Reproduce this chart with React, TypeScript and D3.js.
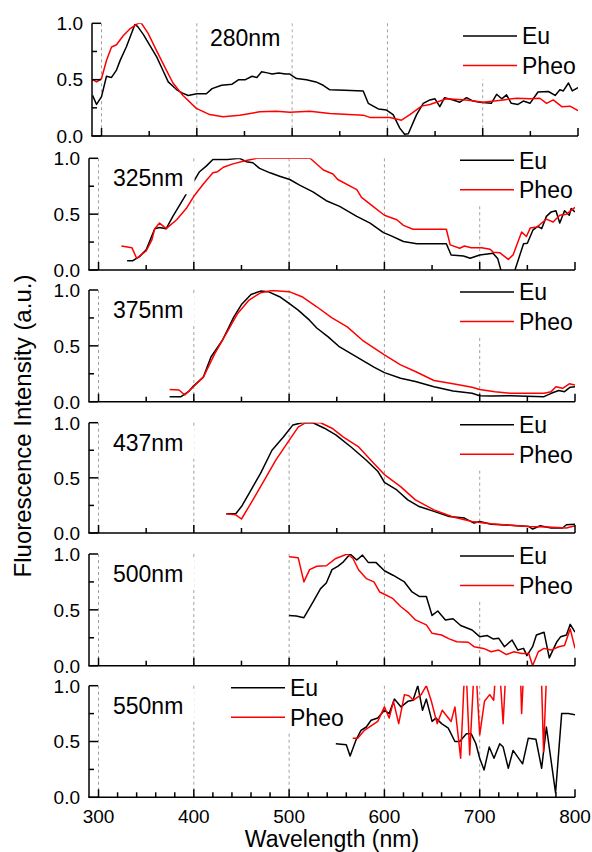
import React from "react";
import * as d3 from "d3";

type Pt = [number, number];

const panelLabels = ["280nm", "325nm", "375nm", "437nm", "500nm", "550nm"];
const seriesNames = ["Eu", "Pheo"];
const majorTicks = [300, 400, 500, 600, 700, 800];
const gridTicks = [300, 400, 500, 600, 700];
const yMajor = [0, 0.5, 1];
const yMinor = [0.25, 0.75];

const eu280: Pt[] = [
  [290.6, 0.36], [294.8, 0.28], [300, 0.35], [305.2, 0.53], [310.5, 0.52], [315.7, 0.585], [320, 0.68],
  [326, 0.79], [331, 0.9], [335, 0.99], [338, 0.97], [344, 0.9], [351, 0.8], [358, 0.7], [364, 0.59],
  [370, 0.48], [379, 0.41], [385, 0.38], [391, 0.36], [400, 0.375], [410, 0.375], [416, 0.42],
  [426, 0.45], [437, 0.46], [444, 0.5], [451, 0.5], [458, 0.53], [463, 0.52], [468, 0.57], [474, 0.56],
  [479, 0.55], [486, 0.56], [493, 0.55], [497.6, 0.55], [504.6, 0.51], [515, 0.5], [525, 0.48],
  [532.6, 0.45], [539.6, 0.41], [555, 0.405], [574.6, 0.4], [579.9, 0.29], [590.4, 0.24], [599, 0.23],
  [606, 0.19], [613, 0.07], [618, 0.015], [621.9, 0.02], [630.6, 0.19], [637.6, 0.29], [644.6, 0.32],
  [649.9, 0.33], [655, 0.26], [660, 0.34], [669, 0.32], [676, 0.3], [683, 0.34], [690, 0.31],
  [697, 0.3], [709, 0.29], [714.6, 0.37], [720, 0.33], [725, 0.365], [730, 0.29], [737, 0.28],
  [742.6, 0.31], [749.6, 0.29], [758, 0.39], [769, 0.395], [776, 0.36], [781, 0.41], [784.6, 0.4],
  [790, 0.47], [794, 0.4], [800, 0.43],
];
const pheo280: Pt[] = [
  [290.6, 0.5], [294.8, 0.48], [300, 0.51], [305.2, 0.67], [310.5, 0.79], [315.7, 0.81], [322.7, 0.89],
  [329.7, 0.95], [338.4, 1.0], [341.9, 1.0], [348.9, 0.91], [357.6, 0.76], [368, 0.585], [375, 0.47],
  [385.5, 0.36], [399.5, 0.245], [413.5, 0.19], [427.5, 0.17], [445, 0.185], [466, 0.215],
  [483.5, 0.22], [497.6, 0.21], [518.6, 0.22], [539.6, 0.2], [574.6, 0.185], [581.6, 0.165],
  [602.6, 0.165], [614.8, 0.14], [623.6, 0.19], [635.8, 0.265], [644.6, 0.28], [662, 0.33],
  [683, 0.32], [700.6, 0.3], [721.6, 0.32], [735.6, 0.335], [749.6, 0.33], [760, 0.335], [767, 0.29],
  [774, 0.32], [783, 0.26], [791.6, 0.265], [800, 0.225],
];

const eu325: Pt[] = [
  [330, 0.083], [336, 0.083], [343, 0.12], [350, 0.18], [359, 0.37], [364, 0.38], [371, 0.37],
  [378, 0.48], [390, 0.65], [401, 0.81], [406, 0.88], [413, 0.93], [420, 0.99], [435, 0.99],
  [448, 1.0], [455, 0.97], [462, 0.96], [469, 0.91], [480, 0.87], [490, 0.84], [500.7, 0.81],
  [511, 0.76], [525, 0.7], [539, 0.62], [553, 0.57], [571, 0.48], [585, 0.42], [599, 0.335],
  [606, 0.31], [620, 0.255], [634, 0.235], [665, 0.235], [670, 0.135], [683, 0.125], [690, 0.105],
  [700, 0.135], [714, 0.15], [719, 0.1], [727, -0.15], [737, 0.0], [746, 0.235], [750, 0.24],
  [756, 0.36], [761, 0.39], [765, 0.37], [770, 0.48], [775, 0.52], [780, 0.53], [784, 0.42],
  [789, 0.53], [794, 0.49], [796, 0.55], [800, 0.52],
];
const pheo325: Pt[] = [
  [324, 0.215], [335, 0.2], [340, 0.105], [350, 0.17], [356, 0.27], [359, 0.37], [364, 0.42],
  [371, 0.37], [382, 0.45], [392, 0.55], [400, 0.66], [410, 0.77], [420, 0.87], [425, 0.88],
  [431, 0.92], [441, 0.95], [455, 0.98], [466, 1.0], [522, 1.0], [536, 0.895], [546, 0.86],
  [551, 0.81], [571, 0.72], [576, 0.65], [588, 0.57], [600, 0.49], [613, 0.45], [620, 0.4],
  [630, 0.365], [665, 0.365], [669, 0.225], [679, 0.195], [684, 0.215], [691, 0.2], [702, 0.2],
  [711, 0.185], [714, 0.16], [721, 0.155], [730, 0.095], [735, 0.135], [744, 0.34], [749, 0.3],
  [753, 0.375], [760, 0.385], [770, 0.455], [777, 0.43], [784, 0.49], [791, 0.5], [800, 0.56],
];

const eu375: Pt[] = [
  [374.6, 0.045], [386.5, 0.045], [394.4, 0.09], [399.6, 0.14], [410, 0.22], [418, 0.4], [430, 0.55],
  [442, 0.76], [450, 0.87], [460, 0.96], [470, 0.99], [478, 0.985], [490, 0.94], [500, 0.88],
  [509.5, 0.82], [521.4, 0.73], [529, 0.66], [541, 0.58], [553, 0.49], [565, 0.43], [577, 0.37],
  [589, 0.31], [600, 0.26], [617, 0.21], [632.5, 0.18], [652, 0.134], [672, 0.095], [692, 0.075],
  [700, 0.054], [712, 0.05], [732, 0.054], [767.5, 0.045], [775, 0.075], [783, 0.1], [789, 0.09],
  [795, 0.13], [800, 0.134],
];
const pheo375: Pt[] = [
  [374.6, 0.11], [384.5, 0.105], [390.5, 0.06], [399.6, 0.134], [410, 0.22], [422, 0.43], [434, 0.61],
  [446, 0.79], [458, 0.91], [470, 0.975], [482, 0.995], [500, 0.985], [513.5, 0.94], [529, 0.85],
  [545, 0.75], [561, 0.67], [577, 0.55], [600, 0.42], [617, 0.33], [632.5, 0.27], [652, 0.19],
  [672, 0.16], [692, 0.13], [700, 0.11], [716, 0.09], [732, 0.075], [767.5, 0.075], [775, 0.09],
  [780, 0.134], [787, 0.12], [794, 0.16], [800, 0.15],
];

const eu437: Pt[] = [
  [434, 0.175], [444, 0.175], [450, 0.24], [458, 0.36], [470, 0.54], [482, 0.75], [494, 0.87],
  [504, 0.98], [513.5, 1.0], [525, 1.0], [537, 0.95], [549, 0.89], [565, 0.78], [581, 0.66],
  [593, 0.56], [600, 0.46], [613, 0.39], [624.5, 0.3], [636.5, 0.24], [652, 0.196], [668, 0.15],
  [684, 0.135], [694, 0.09], [700, 0.105], [712, 0.08], [732, 0.07], [751.5, 0.06], [755.5, 0.036],
  [763.5, 0.066], [775, 0.045], [787, 0.045], [791, 0.075], [800, 0.08],
];
const pheo437: Pt[] = [
  [434, 0.175], [444, 0.165], [450, 0.127], [462, 0.3], [474, 0.48], [486, 0.66], [500, 0.84],
  [509.5, 0.96], [517.5, 1.0], [533, 1.0], [545, 0.95], [557, 0.87], [573, 0.78], [589, 0.63],
  [600, 0.53], [617, 0.42], [632.5, 0.3], [652, 0.21], [672, 0.145], [692, 0.105], [700, 0.096],
  [712, 0.084], [732, 0.07], [751.5, 0.06], [771, 0.054], [791, 0.045], [800, 0.066],
];

const eu500: Pt[] = [
  [500, 0.45], [507.5, 0.445], [515.5, 0.43], [525, 0.57], [533, 0.69], [539, 0.74], [545, 0.86],
  [551, 0.89], [557, 0.93], [564, 1.0], [571, 0.946], [577, 0.99], [583, 0.925], [591, 0.925],
  [600, 0.85], [609, 0.81], [621, 0.75], [629, 0.66], [636.5, 0.62], [644, 0.62], [650, 0.45],
  [656, 0.49], [664, 0.41], [672, 0.42], [680, 0.36], [692, 0.32], [700, 0.26], [708, 0.27],
  [714, 0.24], [720, 0.245], [726, 0.17], [734, 0.23], [740, 0.14], [746, 0.155], [749.5, 0.09],
  [755.5, 0.17], [759.5, 0.275], [767.5, 0.3], [773, 0.07], [781, 0.215], [785, 0.26], [791, 0.275],
  [795, 0.37], [800, 0.3],
];
const pheo500: Pt[] = [
  [500, 0.976], [509.5, 0.967], [515.5, 0.75], [521.5, 0.86], [529, 0.89], [539, 0.895], [549, 0.96],
  [561, 1.0], [567, 0.96], [573, 0.857], [581, 0.78], [589, 0.75], [595, 0.66], [600, 0.64],
  [609, 0.6], [617, 0.53], [624.5, 0.48], [632.5, 0.41], [644, 0.365], [650, 0.29], [660, 0.275],
  [668, 0.24], [676, 0.215], [688, 0.21], [694, 0.17], [704, 0.155], [712, 0.125], [720, 0.14],
  [728, 0.1], [736, 0.125], [744, 0.11], [751.5, 0.11], [755.5, 0.0], [761.5, 0.125], [767.5, 0.155],
  [775, 0.14], [783, 0.17], [789, 0.18], [795, 0.33], [800, 0.155],
];

const eu550: Pt[] = [
  [549, 0.48], [560, 0.47], [564, 0.37], [570, 0.51], [575.4, 0.6], [581, 0.63], [586, 0.69],
  [593, 0.71], [600, 0.78], [605, 0.75], [610.5, 0.88], [617.5, 0.81], [624.6, 0.86], [630, 0.87],
  [635, 1.0], [640, 0.78], [644, 0.88], [650, 0.68], [654, 0.71], [660, 0.66], [667, 0.62],
  [674, 0.5], [679, 0.5], [686, 0.57], [691, 0.57], [696, 0.48], [700, 0.35], [704.6, 0.245],
  [710, 0.45], [715, 0.35], [721, 0.48], [724.6, 0.45], [730, 0.26], [735, 0.42], [745, 0.3],
  [751, 0.53], [759, 0.52], [765, 0.26], [770, 0.63], [779.6, 0.04], [786, 0.75], [793, 0.75],
  [800, 0.74],
];
const pheo550: Pt[] = [
  [566.7, 0.53], [572, 0.53], [579, 0.6], [586, 0.64], [593, 0.68], [600, 0.81], [605, 0.71],
  [609.5, 0.86], [615, 0.66], [621, 0.92], [625.6, 0.91], [630.5, 0.87], [638.6, 0.92], [644, 1.0],
  [649, 0.87], [655.4, 0.66], [660.7, 0.78], [670, 0.68], [674, 0.81], [680, 0.35], [685, 1.3],
  [689.5, 0.38], [695, 1.3], [700, 0.56], [705, 0.86], [710.5, 0.92], [714.7, 0.87], [719, 1.4],
  [724.6, 0.66], [729, 1.4], [736, 1.5], [742, 1.3], [744, 0.75], [747, 1.3], [758, 1.5],
  [764, 1.3], [767, 0.41], [771, 1.3],
];

const euSeries = [eu280, eu325, eu375, eu437, eu500, eu550];
const pheoSeries = [pheo280, pheo325, pheo375, pheo437, pheo500, pheo550];

// layout
const panelTops = [23.3, 158.3, 290, 422.7, 554, 685.7];
const panelZeros = [136, 270, 401.7, 533, 665.7, 797.3];
const panelShift = [3, 0, 0, 0, 0, 0];
const minorStep = [50, 50, 50, 50, 50, 20];
const FONT = "'Liberation Sans', Arial, Helvetica, sans-serif";

export default function App() {
  const W = 592;
  const H = 852;
  const xBase = d3.scaleLinear().domain([290, 800]).range([89, 575]);

  return (
    <svg
      width={W}
      height={H}
      style={{ position: "absolute", left: 0, top: 0, background: "#fff" }}
      fontFamily={FONT}
    >
      <rect x={0} y={0} width={W} height={H} fill="#fff" />
      <defs>
        {panelTops.map((t, i) => (
          <clipPath id={`clip${i}`} key={i}>
            <rect
              x={xBase(290) + panelShift[i]}
              y={t}
              width={xBase(800) - xBase(290)}
              height={panelZeros[i] - t}
            />
          </clipPath>
        ))}
      </defs>
      {panelTops.map((top, i) => {
        const s = panelShift[i];
        const x = (v: number) => xBase(v) + s;
        const y = d3.scaleLinear().domain([0, 1]).range([panelZeros[i], top]);
        const line = d3
          .line<Pt>()
          .x((d) => x(d[0]))
          .y((d) => y(d[1]));
        const x0 = x(290);
        const x1 = x(800);
        const y0 = y(0);
        const minors = d3.range(300, 800.1, minorStep[i]).filter((v) => v % 100 !== 0);
        // legend
        const legEuY = i === 0 ? top + 12.7 : top + 2;
        const legPhY = legEuY + 29.5;
        const legX1 = i === 5 ? 231 : 460 + s;
        const legX2 = legX1 + 54;
        const labelX = i === 0 ? 210 : 113;
        const labelBase = i === 0 ? top + 23 : top + 28;
        return (
          <g key={i}>
            {gridTicks.map((g) => (
              <line
                key={g}
                x1={x(g)}
                x2={x(g)}
                y1={top}
                y2={y0}
                stroke="#a0a0a0"
                strokeWidth={1}
                strokeDasharray="3,3"
              />
            ))}
            <rect
              x={legX1 - 8}
              y={legEuY - 14}
              width={i === 5 ? 105 : x1 - legX1 + 6}
              height={legPhY - legEuY + 28}
              fill="#fff"
            />
            <g clipPath={`url(#clip${i})`}>
              <path d={line(euSeries[i]) || ""} fill="none" stroke="#000" strokeWidth={1.5} strokeLinejoin="round" />
              <path d={line(pheoSeries[i]) || ""} fill="none" stroke="#ff0000" strokeWidth={1.5} strokeLinejoin="round" />
            </g>
            <rect x={labelX - 8} y={labelBase - 24} width={89.5} height={32} fill="#fff" />
            <text x={labelX} y={labelBase} fontSize={23} fill="#000">
              {panelLabels[i]}
            </text>
            <line x1={legX1} x2={legX2} y1={legEuY} y2={legEuY} stroke="#000" strokeWidth={1.5} />
            <line x1={legX1} x2={legX2} y1={legPhY} y2={legPhY} stroke="#ff0000" strokeWidth={1.5} />
            <text x={legX2 + 5} y={legEuY + 8.3} fontSize={23} fill="#000">
              {seriesNames[0]}
            </text>
            <text x={legX2 + 5} y={legPhY + 8.3} fontSize={23} fill="#000">
              {seriesNames[1]}
            </text>
            {/* axes */}
            <line x1={x0} x2={x0} y1={top} y2={y0} stroke="#000" strokeWidth={1.5} />
            <line x1={x0 - 0.75} x2={x1} y1={y0} y2={y0} stroke="#000" strokeWidth={1.5} />
            {yMajor.map((v) => (
              <line key={v} x1={x0} x2={x0 + 9} y1={y(v)} y2={y(v)} stroke="#000" strokeWidth={1.5} />
            ))}
            {yMinor.map((v) => (
              <line key={v} x1={x0} x2={x0 + 5} y1={y(v)} y2={y(v)} stroke="#000" strokeWidth={1.5} />
            ))}
            {majorTicks.map((v) => (
              <line key={v} x1={x(v)} x2={x(v)} y1={y0} y2={y0 - 8} stroke="#000" strokeWidth={1.5} />
            ))}
            {minors.map((v) => (
              <line key={v} x1={x(v)} x2={x(v)} y1={y0} y2={y0 - 5} stroke="#000" strokeWidth={1.5} />
            ))}
            {yMajor.map((v) => (
              <text
                key={v}
                x={x0 - 9}
                y={y(v) + 6.8}
                fontSize={19}
                textAnchor="end"
                fill="#000"
              >
                {v.toFixed(1)}
              </text>
            ))}
            {i === 5 &&
              majorTicks.map((v) => (
                <text key={v} x={x(v)} y={823} fontSize={19} textAnchor="middle" fill="#000">
                  {v}
                </text>
              ))}
          </g>
        );
      })}
      <text x={332} y={847} fontSize={23} textAnchor="middle" fill="#000">
        Wavelength (nm)
      </text>
      <text
        transform="translate(30.5,426) rotate(-90)"
        fontSize={24}
        textAnchor="middle"
        fill="#000"
      >
        Fluorescence Intensity (a.u.)
      </text>
    </svg>
  );
}
